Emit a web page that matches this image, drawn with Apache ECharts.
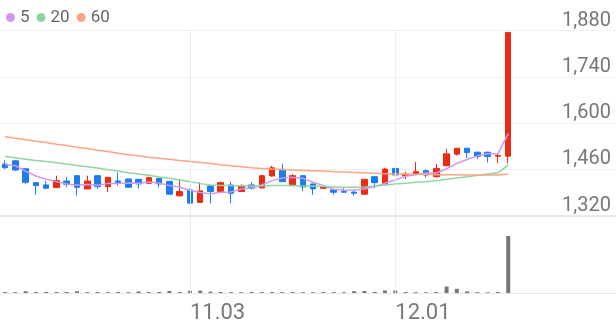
<!DOCTYPE html>
<html><head><meta charset="utf-8">
<script src="https://cdn.jsdelivr.net/npm/echarts@6/dist/echarts.min.js"></script>
<style>html,body{margin:0;padding:0;background:#fff;overflow:hidden}#c{width:616px;height:321px}</style>
</head><body><div id="c"></div>
<script>
const dates = ['10.01','10.02','10.10','10.13','10.14','10.15','10.16','10.17','10.20','10.21',
  '10.22','10.23','10.24','10.27','10.28','10.29','10.30','10.31','11.03','11.04',
  '11.05','11.06','11.07','11.10','11.11','11.12','11.13','11.14','11.17','11.18',
  '11.19','11.20','11.21','11.24','11.25','11.26','11.27','11.28','12.01','12.02',
  '12.03','12.04','12.05','12.08','12.09','12.10','12.11','12.12','12.15','12.16'];
const opens  = [1476,1486,1462,1420,1413,1405,1425,1441,1401,1441,1408,1425,1431,1430,1418,1433,1424,1380,1398,1360,
  1410,1393,1413,1393,1413,1404,1440,1460,1411,1441,1416,1403,1398,1393,1391,1385,1438,1416,1463,1441,
  1446,1456,1438,1471,1506,1524,1512,1512,1500,1500];
const closes = [1465,1458,1421,1411,1403,1426,1415,1406,1425,1408,1436,1420,1406,1416,1435,1416,1385,1393,1358,1395,
  1393,1420,1388,1410,1403,1441,1465,1423,1441,1407,1401,1407,1391,1391,1388,1430,1420,1461,1443,1445,
  1453,1443,1463,1507,1524,1511,1499,1499,1502,1874];
const lows   = [1461,1456,1416,1383,1400,1404,1407,1381,1400,1401,1392,1411,1404,1402,1417,1406,1384,1378,1356,1359,
  1357,1392,1358,1392,1398,1403,1439,1422,1410,1394,1383,1400,1383,1390,1380,1384,1403,1415,1442,1431,
  1445,1436,1435,1470,1502,1494,1491,1481,1479,1478];
const highs  = [1487,1488,1463,1421,1425,1441,1437,1442,1441,1442,1437,1451,1432,1431,1438,1434,1425,1431,1403,1421,
  1411,1423,1423,1415,1421,1442,1471,1477,1446,1442,1417,1413,1399,1403,1398,1431,1439,1465,1489,1453,
  1483,1460,1476,1522,1525,1525,1513,1513,1509,1875];
const volumes = [90,80,180,90,100,90,100,170,80,90,80,90,80,160,90,100,200,90,230,240,
  130,100,90,80,90,80,90,80,90,80,70,90,80,80,180,200,100,260,250,90,
  80,70,90,650,420,160,80,70,90,5780];
const ma5  = [1475,1471,1455,1440,1430,1423,1416,1412,1414,1412,1417,1417,1419,1418,1422,1419,1411,1407,1397,1390,
  1386,1391,1392,1401,1404,1413,1426,1434,1436,1433,1421,1411,1400,1398,1397,1401,1408,1418,1428,1439,
  1444,1449,1449,1462,1478,1490,1501,1507,1507,1568];
const ma20 = [1499,1495,1491,1487,1484,1480,1476,1472,1468,1464,1459,1455,1450,1446,1442,1437,1433,1428,1423,1417,
  1413,1411,1411,1410,1410,1410,1411,1411,1411,1410,1409,1408,1407,1406,1406,1407,1410,1413,1416,1418,
  1421,1423,1426,1430,1434,1438,1442,1446,1450,1473];
const ma60 = [1559,1554,1550,1545,1541,1536,1532,1527,1523,1518,1514,1509,1504,1501,1497,1494,1491,1487,1484,1481,
  1478,1474,1471,1468,1465,1463,1461,1460,1458,1457,1456,1455,1453,1452,1451,1450,1448,1447,1446,1446,
  1445,1445,1444,1444,1444,1443,1443,1443,1443,1446];
const priceMin = 1320, priceMax = 1880, priceStep = 140;
const labeledDates = ['11.03','12.01'];
const emptySlots = 10;

const cats = dates.concat(Array.from({length: emptySlots}, (_, i) => ' '.repeat(i + 1)));
const candleData = opens.map((o, i) => [o, closes[i], lows[i], highs[i]]);
const RED = '#ec2c12', BLUE = '#1b7cf0';
const vLines = labeledDates.map(d => ({xAxis: dates.indexOf(d)}));
const markV = {symbol: 'none', silent: true, label: {show: false}, animation: false,
  lineStyle: {color: '#ececec', type: 'solid', width: 1}, data: vLines};

const chart = echarts.init(document.getElementById('c'), null, {renderer: 'canvas'});
chart.setOption({
  animation: false,
  backgroundColor: '#fff',
  textStyle: {fontFamily: 'Roboto'},
  legend: {
    left: 1, top: 4, icon: 'circle', itemWidth: 9, itemHeight: 9, itemGap: 7,
    textStyle: {fontSize: 17, color: '#666', fontFamily: 'Roboto'},
    data: ['5', '20', '60']
  },
  grid: [
    {left: 0, right: 0, top: 30.5, height: 185.2, outerBoundsMode: 'none', containLabel: false},
    {left: 0, right: 0, top: 217, bottom: 28, outerBoundsMode: 'none', containLabel: false}
  ],
  xAxis: [
    {type: 'category', gridIndex: 0, data: cats, boundaryGap: true,
     axisLine: {show: true, lineStyle: {color: '#e9e9e9', width: 2}}, axisTick: {show: false},
     axisLabel: {show: false}, splitLine: {show: false}},
    {type: 'category', gridIndex: 1, data: cats, boundaryGap: true,
     axisLine: {show: true, lineStyle: {color: '#e6e6e6', width: 1}}, axisTick: {show: false},
     axisLabel: {show: true, interval: 0, align: 'left', margin: 9, fontSize: 22, color: '#777', fontFamily: 'Roboto',
       formatter: v => labeledDates.includes(v) ? v : ''},
     splitLine: {show: false}}
  ],
  yAxis: [
    {type: 'value', gridIndex: 0, position: 'right', min: priceMin, max: priceMax, interval: priceStep,
     axisLine: {show: false}, axisTick: {show: false},
     axisLabel: {inside: true, margin: 5, fontSize: 20, color: '#777', fontFamily: 'Roboto', verticalAlign: 'bottom',
       padding: [0, 0, 0, 0], formatter: v => v.toLocaleString('en-US')},
     splitLine: {show: true, lineStyle: {color: '#f0f0f0', width: 1}}},
    {type: 'value', gridIndex: 1, min: 0, max: 7700, show: false, splitLine: {show: false}}
  ],
  series: [
    {name: 'price', type: 'candlestick', xAxisIndex: 0, yAxisIndex: 0, data: candleData, barWidth: 6,
     itemStyle: {color: RED, color0: BLUE, borderColor: RED, borderColor0: BLUE, borderWidth: 1},
     markLine: markV},
    {name: '5', type: 'line', xAxisIndex: 0, yAxisIndex: 0, data: ma5, symbol: 'none', smooth: false,
     itemStyle: {color: '#d197f3'}, lineStyle: {color: '#d197f3', width: 1.5}},
    {name: '20', type: 'line', xAxisIndex: 0, yAxisIndex: 0, data: ma20, symbol: 'none',
     itemStyle: {color: '#8fd59f'}, lineStyle: {color: '#8fd59f', width: 1.5}},
    {name: '60', type: 'line', xAxisIndex: 0, yAxisIndex: 0, data: ma60, symbol: 'none',
     itemStyle: {color: '#fca383'}, lineStyle: {color: '#fca383', width: 1.5}},
    {name: 'volume', type: 'bar', xAxisIndex: 1, yAxisIndex: 1, data: volumes, barWidth: 4,
     itemStyle: {color: '#767676'}, markLine: markV}
  ]
});
</script></body></html>
